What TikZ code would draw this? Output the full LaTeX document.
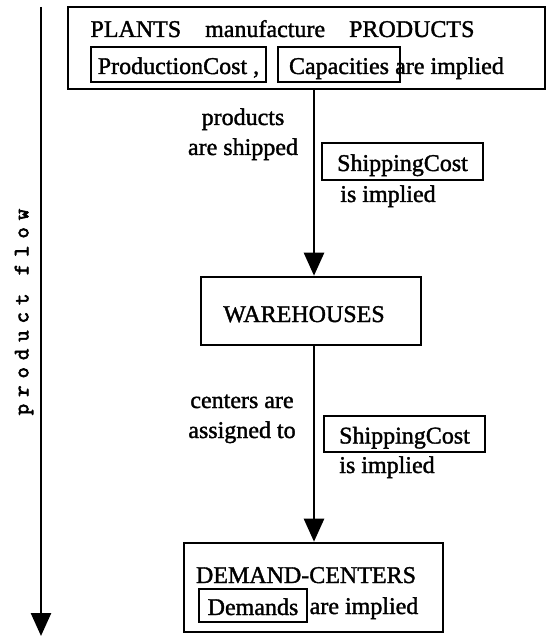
\documentclass[tikz,border=0pt]{standalone}
\usepackage{fontspec}
\setmainfont{Liberation Serif}[FakeBold=1.5]
\newfontfamily\flowfont{Latin Modern Mono}[LetterSpace=32,FakeBold=3]
\usetikzlibrary{arrows.meta}
\begin{document}
\begin{tikzpicture}[x=1pt,y=1pt,
  frame/.style={draw, line width=2.6pt, inner sep=0pt},
  tbox/.style={draw, line width=2.4pt, inner sep=0pt, text height=19pt, text depth=0pt, font=\fontsize{24}{30}\selectfont},
  txt/.style={inner sep=0pt, font=\fontsize{24}{30}\selectfont},
  flow/.style={line width=2.6pt, -{Triangle[length=23pt,width=20pt]}}]
\useasboundingbox (0,0) rectangle (548,-636);
% product flow axis
\coordinate (axtop) at (41,-7);
\coordinate (axbot) at (41,-636);
\draw[flow] (axtop) -- (axbot);
\node[rotate=90, inner sep=0pt, font=\flowfont\fontsize{22}{22}\selectfont] (flowlabel) at (24,-312) {product flow};
% plants
\node[frame, minimum width=477pt, minimum height=82pt] (plants) at (306.5,-48) {};
\node[txt, anchor=base] (plantstxt) at (282.5,-37) {PLANTS\quad manufacture\quad PRODUCTS};
\node[tbox, minimum width=175pt, minimum height=35pt] (pcost) at (178.5,-64.5) {ProductionCost ,};
\node[tbox, minimum width=122pt, minimum height=35pt] (cap) at (339,-64.5) {Capacities};
\node[txt, anchor=base west] (capimp) at (395,-74) {are implied};
% warehouses
\coordinate (col) at (314,0);
\node[frame, minimum width=220pt, minimum height=68pt] (ware) at (311,-311) {};
\node[txt, anchor=base] (waretxt) at (304,-322) {WAREHOUSES};
\draw[flow] (plants.south -| col) -- (ware.north -| col);
\node[txt, anchor=base, align=center] (lab1) at (243,-155) {products\\are shipped};
\node[tbox, minimum width=161pt, minimum height=37pt] (ship1) at (402.5,-161.5) {ShippingCost};
\node[txt, anchor=base] (imp1) at (388,-202) {is implied};
% demand centers
\node[frame, minimum width=259pt, minimum height=89pt] (demand) at (313.5,-587.5) {};
\node[txt, anchor=base] (demtxt) at (306,-583) {DEMAND-CENTERS};
\node[tbox, minimum width=108pt, minimum height=33pt] (dem) at (253,-605.5) {Demands};
\node[txt, anchor=base] (demimp) at (364,-614) {are implied};
\draw[flow] (ware.south -| col) -- (demand.north -| col);
\node[txt, anchor=base, align=center] (lab2) at (242,-438) {centers are\\assigned to};
\node[tbox, minimum width=161pt, minimum height=36pt] (ship2) at (404.5,-434) {ShippingCost};
\node[txt, anchor=base] (imp2) at (387,-473) {is implied};
\end{tikzpicture}
\end{document}
